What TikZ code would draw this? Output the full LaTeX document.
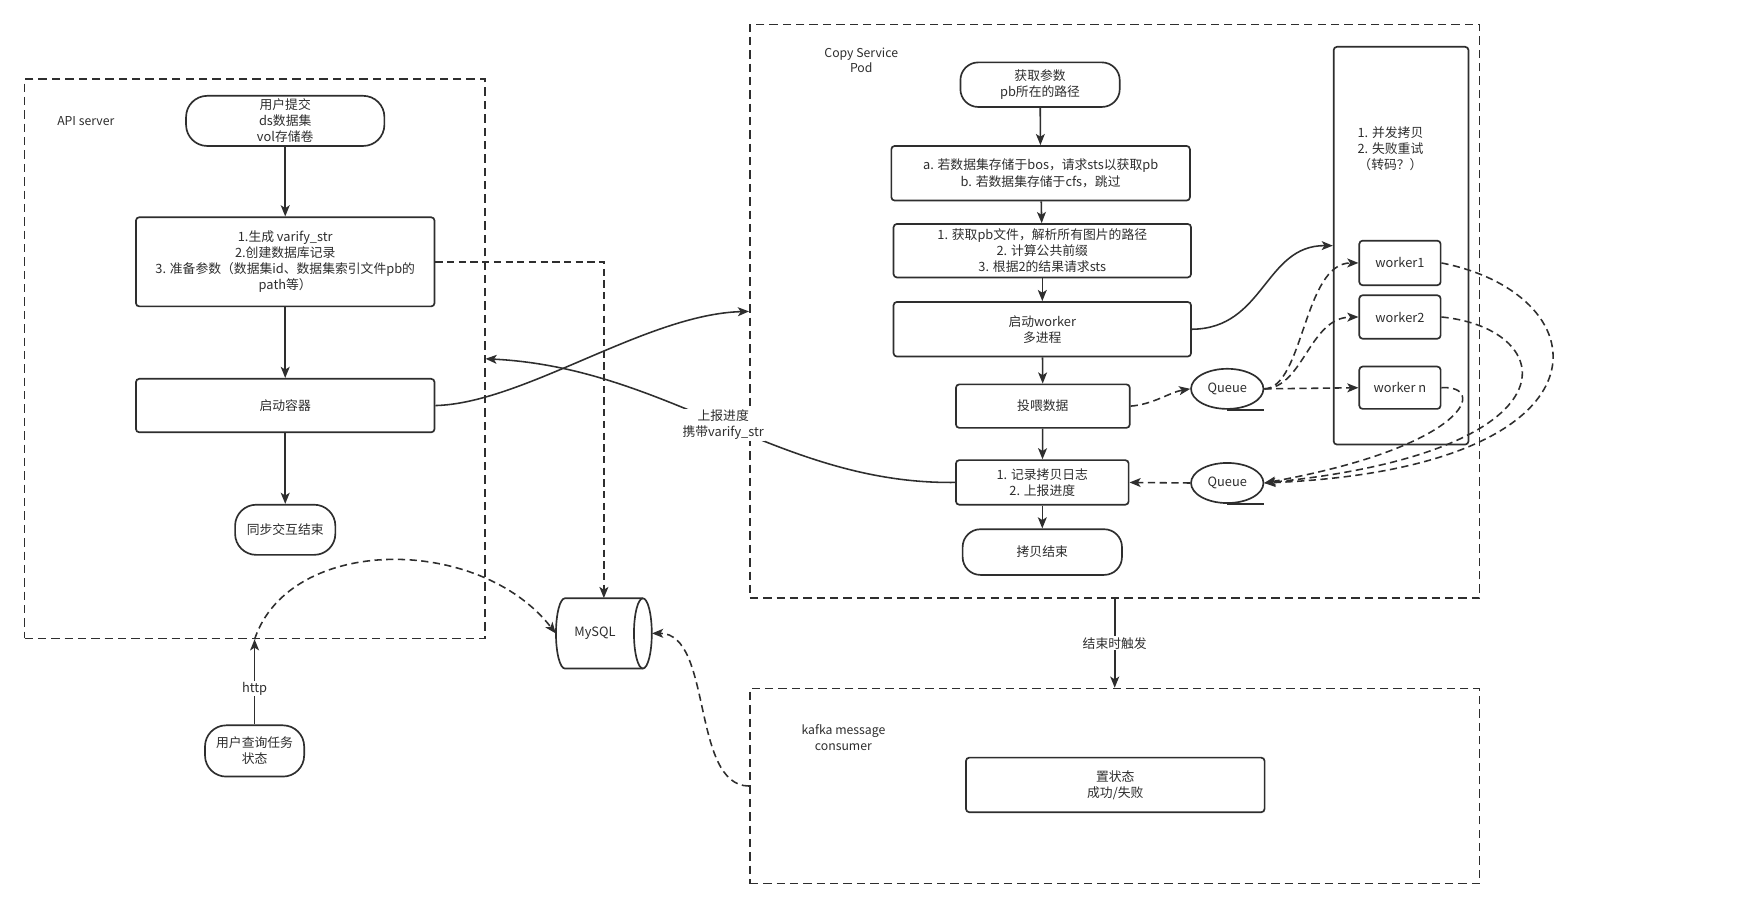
\documentclass[tikz,border=0pt]{standalone}
\usepackage{fontspec}
\setmainfont{Noto Sans CJK SC}
\usetikzlibrary{arrows.meta,shapes.geometric}
\definecolor{ink}{HTML}{2E2E2E}
\tikzset{
  every node/.style={font=\fontsize{11.5}{14.5}\selectfont, text=ink},
  box/.style={draw=ink, line width=1.5pt, rounded corners=3pt, align=center, inner sep=0pt, fill=white},
  term/.style={box, rounded corners=17pt},
  cont/.style={draw=ink, line width=1.5pt, dash pattern=on 7.5pt off 4.5pt, inner sep=0pt},
  conn/.style={draw=ink, line width=1.4pt, -{Stealth[length=10pt,width=8pt,inset=2.5pt]}},
  dconn/.style={conn, dash pattern=on 6.5pt off 4pt},
  lbl/.style={fill=white, inner sep=1pt, align=center},
  captxt/.style={align=center, font=\fontsize{11}{14}\selectfont},
  queue/.style={ellipse, draw=ink, line width=1.5pt, fill=white, minimum width=65pt, minimum height=36pt, inner sep=0pt}
}
\begin{document}
\begin{tikzpicture}[x=1pt, y=-1pt]
\fill[white] (0,0) rectangle (1568,815);
\useasboundingbox (0,0) rectangle (1568,815);

% containers
\node[cont, minimum width=413pt, minimum height=502pt] (api) at (228.5,322) {};
\node[captxt] (apilbl) at (77,109) {API server};
\node[cont, minimum width=655pt, minimum height=515pt] (copy) at (1000.5,279.5) {};
\node[captxt] (copylbl) at (773,54) {Copy Service\\Pod};
\node[cont, minimum width=655pt, minimum height=175pt] (kafka) at (1000.5,705.5) {};
\node[captxt] (kafkalbl) at (757,662) {kafka message\\consumer};

% API server
\node[term, minimum width=178pt, minimum height=45pt, rounded corners=19pt] (submit) at (256,108.5) {用户提交\\ds数据集\\vol存储卷};
\node[box, minimum width=268pt, minimum height=80pt] (gen) at (256,235) {1.生成 varify\_str\\2.创建数据库记录\\3. 准备参数（数据集id、数据集索引文件pb的\\path等）};
\node[box, minimum width=268pt, minimum height=48pt] (start) at (256,364) {启动容器};
\node[term, minimum width=90pt, minimum height=45pt, rounded corners=19pt] (syncend) at (256,475.5) {同步交互结束};
\node[term, minimum width=89pt, minimum height=46pt, rounded corners=19pt] (query) at (228.5,674) {用户查询任务\\状态};

% MySQL cylinder
\node[minimum width=86pt, minimum height=63pt, inner sep=0pt] (mysql) at (542,568.5) {};
\draw[ink, line width=1.5pt, fill=white] (507,537) arc[start angle=90, end angle=270, x radius=8pt, y radius=31.5pt]
  -- (577,600) arc[start angle=-90, end angle=90, x radius=8pt, y radius=31.5pt] -- cycle;
\draw[ink, line width=1.5pt] (577,537) arc[start angle=90, end angle=270, x radius=8pt, y radius=31.5pt];
\node (mysqltxt) at (534,568.5) {MySQL};

% Copy service
\node[term, minimum width=143pt, minimum height=40pt, rounded corners=16pt] (getp) at (933.5,76) {获取参数\\pb所在的路径};
\node[box, minimum width=268pt, minimum height=49pt] (cond) at (934,155.5) {a. 若数据集存储于bos，请求sts以获取pb\\b. 若数据集存储于cfs，跳过};
\node[box, minimum width=267pt, minimum height=48pt] (parse) at (935.5,225) {1. 获取pb文件，解析所有图片的路径\\2. 计算公共前缀\\3. 根据2的结果请求sts};
\node[box, minimum width=267pt, minimum height=49pt] (startw) at (935.5,295.5) {启动worker\\多进程};
\node[box, minimum width=156pt, minimum height=39pt] (feed) at (936,364.5) {投喂数据};
\node[box, minimum width=155pt, minimum height=40pt] (log) at (935.5,433) {1. 记录拷贝日志\\2. 上报进度};
\node[term, minimum width=143pt, minimum height=41pt, rounded corners=16pt] (copyend) at (935.5,495.5) {拷贝结束};

\node[box, minimum width=121pt, minimum height=357pt] (pool) at (1257.5,220.5) {};
\node[align=center] (pooltxt) at (1248,133.5) {1. 并发拷贝\\2. 失败重试\\（转码？）};
\node[box, minimum width=73pt, minimum height=40pt] (w1) at (1256.5,236) {worker1};
\node[box, minimum width=73pt, minimum height=39pt] (w2) at (1256.5,284.5) {worker2};
\node[box, minimum width=73pt, minimum height=38pt] (wn) at (1256.5,348) {worker n};

\node[queue] (q1) at (1101.5,349) {Queue};
\draw[ink, line width=1.5pt] (q1.south) -- ++(33,0);
\node[queue] (q2) at (1101.5,433.5) {Queue};
\draw[ink, line width=1.5pt] (q2.south) -- ++(33,0);

% kafka
\node[box, minimum width=268pt, minimum height=49pt] (setst) at (1001,704.5) {置状态\\成功/失败};

% connectors: API server
\draw[conn] (submit) -- (gen);
\draw[conn] (gen) -- (start);
\draw[conn] (start) -- (syncend);
\draw[dconn] (gen.east) -| (mysql.north);
\draw[conn] (start.east) .. controls (470,362) and (580,282) .. (copy.west);
\draw[conn] (query.north) -- (api.south) node[lbl, pos=0.42] (httplbl) {http};
\draw[dconn] (api.south) .. controls (260,480) and (430,480) .. (mysql.west);

% connectors: copy service
\draw[conn] (getp) -- (cond);
\draw[conn] (cond) -- (parse);
\draw[conn] (parse) -- (startw);
\draw[conn] (startw) -- (feed);
\draw[conn] (feed) -- (log);
\draw[conn] (log) -- (copyend);
\draw[conn] (startw.east) .. controls (1135,295) and (1135,220) .. (pool.west);
\draw[dconn] (feed.east) .. controls (1035,363) and (1050,352) .. (q1.west);
\draw[dconn] (q1.east) .. controls (1170,348) and (1170,236) .. (w1.west);
\draw[dconn] (q1.east) .. controls (1170,348) and (1175,285) .. (w2.west);
\draw[dconn] (q1.east) -- (wn.west);
\draw[dconn] (w1.east) .. controls (1440,265) and (1455,420) .. (q2.east);
\draw[dconn] (w2.east) .. controls (1400,295) and (1420,405) .. (q2.east);
\draw[dconn] (wn.east) .. controls (1335,345) and (1320,400) .. (q2.east);
\draw[dconn] (q2.west) -- (log.east);
\draw[conn] (log.west) .. controls (700,435) and (600,330) .. (api.east) node[lbl, pos=0.5] (replbl) {上报进度\\携带varify\_str};
\draw[conn] (copy.south) -- (kafka.north) node[lbl, midway] (trig) {结束时触发};
\draw[dconn] (kafka.west) .. controls (620,705) and (640,568) .. (mysql.east);
\end{tikzpicture}
\end{document}
